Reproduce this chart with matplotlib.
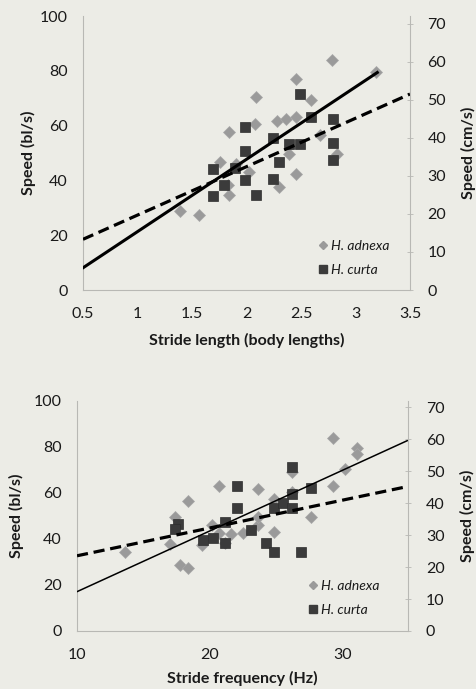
import matplotlib
matplotlib.use("Agg")
import matplotlib.pyplot as plt
from matplotlib.lines import Line2D
import numpy as np

plt.rcParams['font.family'] = ['Lato', 'DejaVu Sans']

# ---- Data: top panel (stride length) ----
len_adnexa_x = [2.78, 3.19, 2.45, 2.09, 2.59, 2.08, 2.28, 2.36, 2.45, 1.84, 2.67,
                2.39, 2.83, 2.45, 2.30, 2.02, 1.76, 1.84, 1.39, 1.56, 1.83, 1.90]
len_adnexa_y = [84.0, 79.7, 77.1, 70.4, 69.5, 60.7, 61.6, 62.4, 63.2, 57.7, 56.7,
                49.6, 49.8, 42.4, 37.6, 43.0, 46.8, 34.8, 28.8, 27.4, 38.5, 46.0]
len_curta_x = [2.49, 1.99, 2.59, 2.79, 2.24, 2.39, 2.49, 2.79, 1.99, 1.89, 1.69,
               2.79, 2.30, 1.99, 2.24, 1.79, 1.69, 2.09]
len_curta_y = [71.5, 59.6, 63.2, 62.4, 55.5, 53.2, 53.3, 53.5, 50.9, 44.6, 44.2,
               47.6, 46.8, 40.0, 40.4, 38.3, 34.4, 34.7]

# ---- Data: bottom panel (stride frequency) ----
freq_adnexa_x = [29.27, 31.12, 31.12, 30.2, 26.2, 29.27, 20.68, 23.66, 18.34, 26.2,
                 24.85, 27.66, 17.39, 17.0, 13.6, 17.76, 18.39, 24.85, 20.2, 19.45,
                 20.7, 21.6, 22.53, 23.66, 23.66, 21.15]
freq_adnexa_y = [83.8, 79.4, 76.8, 70.4, 69.3, 62.9, 62.9, 61.7, 56.4, 60.6,
                 57.4, 49.4, 49.6, 37.7, 34.5, 28.8, 27.3, 43.2, 46.1, 37.4,
                 42.5, 42.2, 42.5, 46.1, 49.7, 38.1]
freq_curta_x = [26.18, 22.03, 27.61, 26.18, 22.03, 24.85, 25.5, 26.2, 17.63, 17.39,
                21.15, 23.11, 19.47, 20.27, 21.15, 24.22, 24.85, 26.93]
freq_curta_y = [71.2, 63.2, 62.3, 59.6, 53.3, 53.3, 55.5, 53.3, 46.4, 44.2,
                47.3, 43.9, 39.6, 40.3, 38.4, 38.1, 34.2, 34.2]

# ---- Regression lines (slope, intercept, x-range) ----
len_solid = (26.4, -5.1, 0.5, 3.2)
len_dashed = (17.67, 9.67, 0.5, 3.5)
freq_solid = (2.636, -9.26, 10, 35)
freq_dashed = (1.208, 20.62, 10, 35)

left_ticks = [0, 20, 40, 60, 80, 100]
right_ticks = [0, 10, 20, 30, 40, 50, 60, 70]
len_xticks = [0.5, 1, 1.5, 2, 2.5, 3, 3.5]
len_xticklabels = ['0.5', '1', '1.5', '2', '2.5', '3', '3.5']
freq_xticks = [10, 20, 30]

BG = '#ecece6'
DIAM = '#9a9a9a'
SQ = '#3b3b3b'
SPINE = '#b8b8b4'
TXT = '#1a1a1a'

fig = plt.figure(figsize=(4.77, 6.89), dpi=100, facecolor=BG)


def panel(rect, ax_x, ay_x, bx, by, solid, dashed, solid_lw, xlim, xticks, xticklabels,
          xlabel, ylab_x, rlab_x, xlab_y, leg_anchor):
    ax = fig.add_axes(rect)
    ax.set_facecolor(BG)
    ax.plot(ax_x, ay_x, linestyle='none', marker='D', markersize=6.5, color=DIAM,
            markeredgecolor='#a8a8a8', markeredgewidth=0.5, zorder=3)
    ax.plot(bx, by, linestyle='none', marker='s', markersize=7.2, color=SQ,
            markeredgecolor='#2e2e2e', markeredgewidth=0.5, zorder=3)
    for (m, b, x0, x1), ls, lw in [(solid, '-', solid_lw), (dashed, (0, (3.5, 1.8)), 2.3)]:
        xs = np.array([x0, x1])
        ax.plot(xs, m * xs + b, color='black', linestyle=ls, linewidth=lw, zorder=4)
    ax.set_xlim(*xlim)
    ax.set_ylim(0, 100)
    ax.set_xticks(xticks)
    ax.set_xticklabels(xticklabels)
    ax.set_yticks(left_ticks)
    for s in ['top', 'right']:
        ax.spines[s].set_visible(False)
    for s in ['left', 'bottom']:
        ax.spines[s].set_color(SPINE)
        ax.spines[s].set_linewidth(0.8)
    ax.tick_params(axis='both', length=0, labelsize=11.5, colors=TXT)
    ax.tick_params(axis='y', pad=11)
    ax.tick_params(axis='x', pad=12)
    ax.set_ylabel('Speed (bl/s)', fontsize=11.5, fontweight='bold', color=TXT)
    ax.yaxis.set_label_coords(ylab_x, 0.5)
    ax.set_xlabel(xlabel, fontsize=11.5, fontweight='bold', color=TXT)
    ax.xaxis.set_label_coords(0.5, xlab_y)

    ax2 = ax.twinx()
    ax2.set_ylim(0, 72)
    ax2.set_yticks(right_ticks)
    for s in ['top', 'left', 'bottom']:
        ax2.spines[s].set_visible(False)
    ax2.spines['right'].set_color(SPINE)
    ax2.spines['right'].set_linewidth(0.8)
    ax2.tick_params(axis='y', direction='inout', length=5, width=0.6, color=SPINE,
                    labelsize=11.5, labelcolor=TXT, pad=10)
    ax2.set_ylabel('Speed (cm/s)', fontsize=11.5, fontweight='bold', color=TXT, rotation=90)
    ax2.yaxis.set_label_coords(rlab_x, 0.5)

    handles = [Line2D([], [], linestyle='none', marker='D', markersize=4.5, color=DIAM),
               Line2D([], [], linestyle='none', marker='s', markersize=6, color=SQ)]
    leg = ax.legend(handles, ['H. adnexa', 'H. curta'], loc='lower right',
                    bbox_to_anchor=leg_anchor, frameon=False, handlelength=0.6,
                    handletextpad=0.3, labelspacing=0.9, borderaxespad=0,
                    prop={'style': 'italic', 'size': 10})
    for t in leg.get_texts():
        t.set_color(TXT)
    return ax


panel([83 / 477, 1 - 290 / 689, 327 / 477, 274 / 689],
      len_adnexa_x, len_adnexa_y, len_curta_x, len_curta_y,
      len_solid, len_dashed, 2.2, (0.5, 3.5), len_xticks, len_xticklabels,
      'Stride length (body lengths)', -0.145, 1.155, -0.155, (0.955, 0.03))

panel([77 / 477, 1 - 631 / 689, 331.5 / 477, 230 / 689],
      freq_adnexa_x, freq_adnexa_y, freq_curta_x, freq_curta_y,
      freq_solid, freq_dashed, 1.1, (10, 35), freq_xticks, ['10', '20', '30'],
      'Stride frequency (Hz)', -0.16, 1.155, -0.172, (0.93, 0.04))

fig.savefig('out.png', dpi=100, facecolor=BG)
